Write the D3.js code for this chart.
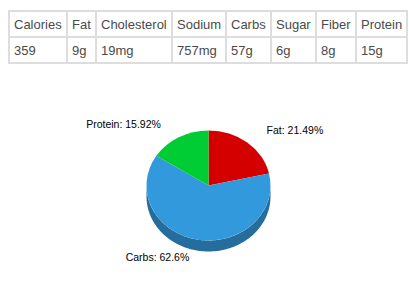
<!DOCTYPE html>
<html>
<head>
<meta charset="utf-8">
<script src="https://cdn.jsdelivr.net/npm/d3@7"></script>
<style>
  body { margin: 0; background: #fff; }
  svg text { font-family: Arial, "Liberation Sans", sans-serif; }
</style>
</head>
<body>
<svg id="chart"></svg>
<script>
var width = 409;
var height = 302;

// table data
var headers = ["Calories", "Fat", "Cholesterol", "Sodium", "Carbs", "Sugar", "Fiber", "Protein"];
var amounts = ["359", "9g", "19mg", "757mg", "57g", "6g", "8g", "15g"];

// pie data
var sliceNames = ["Fat", "Carbs", "Protein"];
var slicePcts = [21.49, 62.6, 15.92];
var sliceColors = ["#d40000", "#3399dd", "#00cc33"];

var svg = d3.select("#chart")
  .attr("width", width)
  .attr("height", height);

// ---- table ----
var tx = 8, ty = 10, rowH = 26, pad = 4, bw = 2;
var tbl = svg.append("g").attr("font-size", 13).attr("fill", "#4a4a4a");

// measure columns
var meas = tbl.append("text").attr("visibility", "hidden");
var colW = headers.map(function(h, i) {
  var w1 = meas.text(h).node().getComputedTextLength();
  var w2 = meas.text(amounts[i]).node().getComputedTextLength();
  return Math.round(Math.max(w1, w2)) + pad * 2 + bw;
});
meas.remove();
var colX = [];
var acc = tx;
colW.forEach(function(w) { colX.push(acc); acc += w; });
var tableRight = acc;

var rowY = d3.scaleBand().domain([0, 1]).range([ty, ty + rowH * 2]);

// grid lines
tbl.selectAll("rect.h")
  .data([0, 1, 2])
  .enter().append("rect")
  .attr("x", tx).attr("y", function(d) { return ty + d * rowH; })
  .attr("width", tableRight - tx + bw).attr("height", bw)
  .attr("fill", "#dddddd");
tbl.selectAll("rect.v")
  .data(colX.concat([tableRight]))
  .enter().append("rect")
  .attr("x", function(d) { return d; }).attr("y", ty)
  .attr("width", bw).attr("height", rowH * 2 + bw)
  .attr("fill", "#dddddd");

[headers, amounts].forEach(function(row, r) {
  tbl.selectAll("text.r" + r)
    .data(row)
    .enter().append("text")
    .attr("x", function(d, i) { return colX[i] + bw + pad; })
    .attr("y", rowY(r) + 19)
    .text(function(d) { return d; });
});

// ---- 3D pie ----
var cx = 208.5, cy = 185.5, rx = 62, ry = 55, depth = 11;
var pie = d3.pie().sort(null).value(function(d) { return d; });
var arcs = pie(slicePcts);

function pt(a, dy) {
  return [cx + rx * Math.sin(a), cy - ry * Math.cos(a) + dy];
}

// side walls (front half only: angles between PI/2 and 3PI/2)
var side = svg.append("g");
arcs.forEach(function(a, i) {
  var s = Math.max(a.startAngle, Math.PI / 2);
  var e = Math.min(a.endAngle, Math.PI * 3 / 2);
  if (e <= s) return;
  var angs = d3.range(s, e, 0.02).concat([e]);
  var top = angs.map(function(t) { return pt(t, 0); });
  var bot = angs.slice().reverse().map(function(t) { return pt(t, depth); });
  side.append("path")
    .attr("d", d3.line()(top.concat(bot)) + "Z")
    .attr("fill", d3.color(sliceColors[i]).darker(0.95));
});

// top face
var arc = d3.arc().innerRadius(0).outerRadius(rx);
svg.append("g")
  .attr("transform", "translate(" + cx + "," + cy + ") scale(1," + (ry / rx) + ")")
  .selectAll("path")
  .data(arcs)
  .enter().append("path")
  .attr("d", arc)
  .attr("fill", function(d, i) { return sliceColors[i]; });

// labels
function mid(d) { return (d.startAngle + d.endAngle) / 2; }
svg.append("g")
  .selectAll("text")
  .data(arcs)
  .enter().append("text")
  .attr("font-size", 10.5)
  .attr("fill", "#000")
  .attr("x", function(d) {
    var s = Math.sin(mid(d));
    return cx + 93 * s + (s >= 0 ? 0 : -3);
  })
  .attr("y", function(d) {
    var c = Math.cos(mid(d));
    return cy - 66 * c + (c < 0 ? depth : 0);
  })
  .attr("text-anchor", function(d) {
    return Math.sin(mid(d)) >= 0 ? "start" : "end";
  })
  .text(function(d, i) { return sliceNames[i] + ": " + d.data + "%"; });
</script>
</body>
</html>
